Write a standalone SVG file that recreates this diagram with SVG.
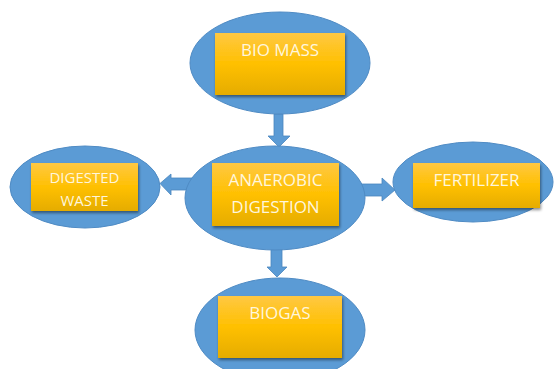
<svg xmlns="http://www.w3.org/2000/svg" width="555" height="369" viewBox="0 0 555 369">
<defs>
<linearGradient id="gold" x1="0" y1="0" x2="0" y2="1">
<stop offset="0" stop-color="#FFC843"/>
<stop offset="0.5" stop-color="#FFC000"/>
<stop offset="1" stop-color="#E5AC00"/>
</linearGradient>
<filter id="sh" x="-10%" y="-10%" width="125%" height="130%">
<feGaussianBlur in="SourceAlpha" stdDeviation="1.5"/>
<feOffset dx="1" dy="2"/>
<feComponentTransfer><feFuncA type="linear" slope="0.45"/></feComponentTransfer>
<feMerge><feMergeNode/><feMergeNode in="SourceGraphic"/></feMerge>
</filter>
</defs>
<style>
.ell{fill:#5B9BD5;stroke:#4F8BC4;stroke-width:1}
.box{fill:url(#gold);filter:url(#sh)}
.arr{fill:#5B9BD5;stroke:#4A86BE;stroke-width:0.8}
.t{font-family:"Open Sans","Liberation Sans",sans-serif;fill:#FFF6DC;text-anchor:middle}
</style>
<rect width="555" height="369" fill="#FFFFFF"/>
<g id="connectors">
<path class="arr" d="M274,114 L283,114 L283,136 L290,136 L279,147 L268,136 L274,136 Z"/>
<path class="arr" d="M197,178 L171,178 L171,174 L160,183.5 L171,195 L171,190 L197,190 Z"/>
<path class="arr" d="M357,184 L382,184 L382,178 L395,190 L382,201 L382,196 L357,196 Z"/>
<path class="arr" d="M271,248 L282,248 L282,267 L287,267 L277,277 L267,267 L271,267 Z"/>
</g>
<g id="biomass">
<ellipse class="ell" cx="280" cy="63" rx="90" ry="51"/>
<rect class="box" x="215" y="33" width="130" height="62"/>
<text class="t" x="280" y="56" font-size="17">BIO MASS</text>
</g>
<g id="anaerobic">
<ellipse class="ell" cx="275" cy="198" rx="90" ry="52"/>
<rect class="box" x="212" y="163" width="127" height="63"/>
<text class="t" x="275.5" y="186" font-size="17">ANAEROBIC</text>
<text class="t" x="275.5" y="213" font-size="17">DIGESTION</text>
</g>
<g id="digested">
<ellipse class="ell" cx="85" cy="187" rx="75" ry="41"/>
<rect class="box" x="31" y="163" width="107" height="48"/>
<text class="t" x="84.5" y="183" font-size="15">DIGESTED</text>
<text class="t" x="84.5" y="206" font-size="15">WASTE</text>
</g>
<g id="fertilizer">
<ellipse class="ell" cx="473" cy="182" rx="80" ry="40"/>
<rect class="box" x="413" y="163" width="127" height="45"/>
<text class="t" x="476.5" y="186" font-size="17">FERTILIZER</text>
</g>
<g id="biogas">
<ellipse class="ell" cx="280" cy="330" rx="85" ry="52"/>
<rect class="box" x="218" y="296" width="124" height="62"/>
<text class="t" x="280" y="319" font-size="17">BIOGAS</text>
</g>
</svg>
